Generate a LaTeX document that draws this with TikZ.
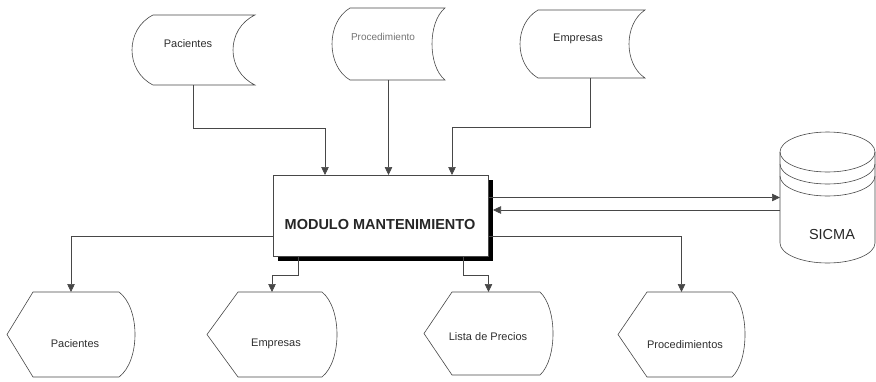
\documentclass[tikz,border=0pt]{standalone}
\usepackage{fontspec}
\setmainfont{Liberation Sans}
\usetikzlibrary{arrows.meta,calc,shadows}

% stored data: #2 = left bulge, #3 = right concavity, #4 = vertical share of control points
\newcommand{\storedoutline}[4]{%
  \draw[ln] ($(#1.north west)+(#2,0)$) -- (#1.north east)
    .. controls +({-4/3*#3},#4) and +({-4/3*#3},-#4) .. (#1.south east)
    -- ($(#1.south west)+(#2,0)$)
    .. controls +({-4/3*#2},-#4) and +({-4/3*#2},#4) .. ($(#1.north west)+(#2,0)$) -- cycle;}
\newcommand{\displayoutline}[4]{%
  \draw[ln] (#1.west) -- ($(#1.north west)+(#2,0)$) -- ($(#1.north east)+(-#3,0)$)
    .. controls +({4/3*#3},#4) and +({4/3*#3},-#4) .. ($(#1.south east)+(-#3,0)$)
    -- ($(#1.south west)+(#2,0)$) -- cycle;}

\begin{document}
\begin{tikzpicture}[x=1pt,y=-1pt,
  ln/.style={draw=black!72, line width=0.6pt},
  arr/.style={ln, -{Triangle[length=8pt,width=7.5pt]}},
  bb/.style={inner sep=0pt, outer sep=0pt},
  lbl/.style={inner sep=0pt, text=black!82, font=\fontsize{11}{13}\selectfont},
  big/.style={inner sep=0pt, text=black!85, font=\bfseries\fontsize{14.5}{16}\selectfont}]
\useasboundingbox (0,0) rectangle (876,381);

% top stored-data shapes
\node[bb, minimum width=123pt, minimum height=70pt] (pT) at (193.5,50) {};
\node[bb, minimum width=113pt, minimum height=72pt] (prT) at (388.5,44) {};
\node[bb, minimum width=125pt, minimum height=68pt] (eT) at (582.5,44) {};
\storedoutline{pT}{21}{22}{14}
\storedoutline{prT}{18}{13}{14}
\storedoutline{eT}{18}{16}{14}
\node[lbl] (pTt) at (188,44) {Pacientes};
\node[lbl, text=black!55, font=\fontsize{10}{12}\selectfont] (prTt) at (383,37) {Procedimiento};
\node[lbl] (eTt) at (578,39) {Empresas};

% main box
\node[bb, draw=black!72, line width=0.6pt, fill=white, minimum width=215pt, minimum height=81pt,
  general shadow={fill=black, shadow xshift=5pt, shadow yshift=-5pt}] (box) at (380.5,215.5) {};
\node[big] (boxt) at (380,225) {MODULO MANTENIMIENTO};

% SICMA cylinder
\node[bb, minimum width=95pt, minimum height=131pt] (sicma) at (827.5,197.5) {};
\draw[ln] (sicma.north) ++(0,20) ellipse [x radius=47.5pt, y radius=20pt];
\draw[ln] (sicma.north west) ++(0,20) -- ++(0,91)
  arc[start angle=180, end angle=360, x radius=47.5pt, y radius=20pt] -- ++(0,-91);
\draw[ln] (sicma.north west) ++(0,32) arc[start angle=180, end angle=360, x radius=47.5pt, y radius=20pt];
\draw[ln] (sicma.north west) ++(0,44) arc[start angle=180, end angle=360, x radius=47.5pt, y radius=20pt];
\node[big, font=\fontsize{14.5}{16}\selectfont] (sicmat) at (832,235) {SICMA};

% bottom display shapes
\node[bb, minimum width=128pt, minimum height=85pt] (pB) at (71,334.5) {};
\node[bb, minimum width=130pt, minimum height=85pt] (eB) at (272,334.5) {};
\node[bb, minimum width=129pt, minimum height=83pt] (lB) at (488.5,333.5) {};
\node[bb, minimum width=127pt, minimum height=85pt] (proB) at (681.5,334.5) {};
\displayoutline{pB}{26}{16}{16}
\displayoutline{eB}{31}{15}{16}
\displayoutline{lB}{28}{13}{16}
\displayoutline{proB}{29}{13}{16}
\node[lbl] (pBt) at (75,344) {Pacientes};
\node[lbl] (eBt) at (276,344) {Empresas};
\node[lbl] (lBt) at (488,337) {Lista de Precios};
\node[lbl] (proBt) at (685,345) {Procedimientos};

% connectors: inputs
\draw[arr] (pT.south) -- ++(0,43) -| ([xshift=-55.5pt]box.north);
\draw[arr] (prT.south) -- (prT.south |- box.north);
\draw[arr] ([xshift=7.5pt]eT.south) -- ++(0,49) -| ([xshift=71.5pt]box.north);

% connectors: outputs
\draw[arr] ([yshift=-20.5pt]box.west) -| (pB.north);
\draw[arr] ([xshift=-82.5pt]box.south) -- ++(0,19) -| (eB.north);
\draw[arr] ([xshift=82.5pt]box.south) -- ++(0,19) -| (lB.north);
\draw[arr] ([yshift=-20.5pt]box.east) -| (proB.north);

% SICMA link
\coordinate (boxr) at ($(box.east)+(5,0)$);
\coordinate (s2) at ([yshift=-12.5pt]sicma.west);
\draw[arr] (box.east |- sicma.west) -- (sicma.west);
\draw[arr] (s2) -- (boxr |- s2);
\end{tikzpicture}
\end{document}
